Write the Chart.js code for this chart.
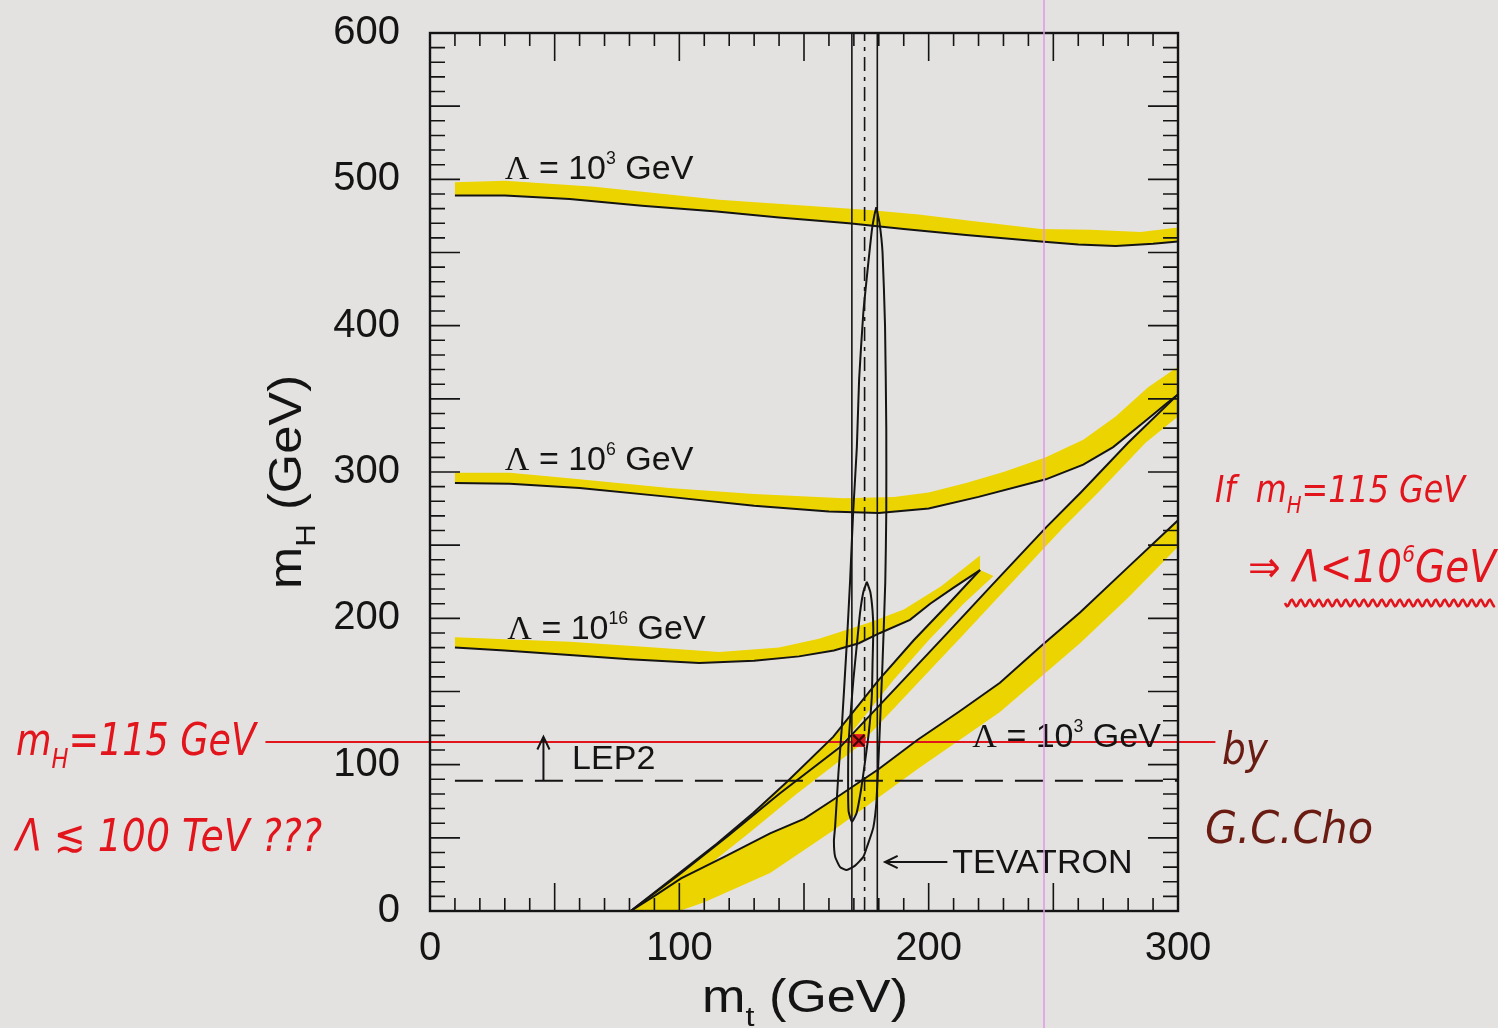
<!DOCTYPE html>
<html>
<head>
<meta charset="utf-8">
<script src="https://cdn.jsdelivr.net/npm/chart.js@4.4.0/dist/chart.umd.min.js"></script>
<style>
body{margin:0;background:#e4e2e0;}
#caixa{position:relative;width:1498px;height:1028px;}
#risco{position:absolute;left:1043px;top:0;width:2px;height:1028px;background:rgba(226,150,232,0.75);pointer-events:none;}
</style>
</head>
<body>
<div id="caixa"><canvas id="grafico"></canvas><div id="risco"></div></div>
<script>
// valores: [m_t, m_H] em GeV
// limites superiores (linha preta) e borda da faixa amarela acima
var sup3 = [[10,489],[30,489],[56,486.5],[85,482],[115,478],[140,474],[168,470],[190,466],[215,462],[245,457.5],[260,455.5],[275,454.5],[290,456],[300,457.5]];
var sup3Borda = [[10,498],[30,499],[66,495],[116,486],[176,479],[196,476],[220,471],[245,466],[265,465.5],[285,464],[300,467]];
var sup6 = [[10,292.5],[32,292],[60,289],[96,283],[130,277],[160,273],[180,272],[200,275],[220,283],[247,295],[262,305],[274,317],[287,335],[295.5,347],[300,353]];
var sup6Borda = [[10,299.5],[32,299.5],[60,295],[96,289],[130,285],[166,282],[186,283],[200,286],[215,292.5],[230,300],[247,310],[262,322],[275,338],[288,358],[300,372]];
var sup16 = [[10,180],[30,178],[56,175],[80,172],[108,169.5],[130,171],[148,174],[162,178],[172,183],[180.5,190],[192.5,199],[200.6,210],[210,221],[220.6,233]];
var sup16Borda = [[10,187],[56,184],[90,180],[116,177],[140,180],[156,186],[176,197],[190,206],[205,222],[220.6,243]];

// limites inferiores (estabilidade) e borda da faixa amarela abaixo
var inf16 = [[80.5,0],[100,26],[115,46],[129.6,67],[143,88],[161.7,119],[180,158],[194,185],[208,210],[220.6,233]];
var inf16Borda = [[87,0],[106,26],[121,46],[135.6,67],[149,88],[167.7,119],[186,158],[200,185],[214,210],[226,229]];
var inf6 = [[80.5,0],[100,25],[120,52],[140,80],[164.5,112],[191,160],[207,189],[225,222],[247,262],[261,286],[280,320],[300,353]];
var inf6Borda = [[88,0],[107,25],[127,52],[147,80],[171.5,112],[198,160],[214,189],[232,222],[254,262],[268,286],[287,320],[300,338]];
var inf3 = [[80.5,0],[90.7,11],[100.7,22.3],[118,37],[136.4,53],[150,63],[161.7,76],[180,97],[195.6,117],[212,136],[228.6,156],[245,181],[260.7,204],[280,235],[300,267]];
var inf3Borda = [[100,0],[110,6],[136.4,26],[161.7,55],[195.6,97],[228.6,136],[260.7,183],[280,214],[300,249]];

// contornos do ajuste eletrofraco
var contornoExt = [[179,481],[180.3,470],[181.5,450],[182.5,400],[183,330],[183,272],[182.6,225],[181.5,170],[180.3,120],[179.1,76],[177.8,57],[175.5,45],[173.8,37],[170.5,31],[167.1,28],[164.5,30],[162.5,37],[162,48],[162.5,58],[163.8,94],[165.1,124],[167.1,181],[168.5,226],[169.7,272],[171.2,317],[172.1,363],[173.8,409],[175.8,443],[177.2,465],[178.3,476],[179,481]];
var contornoInt = [[175.2,225],[176.6,218],[177.5,205],[177.8,192],[177.5,170],[177.2,146.5],[176,122],[174.4,101],[172.8,82],[171.1,67],[169.2,61],[167.9,68],[167.7,78],[167.7,95],[167.8,112],[168.7,135],[169.8,158],[171.2,182],[172.5,204],[173.8,218],[175.2,225]];

var tevatron = [169.2, 174.3, 179.4];   // m_t - erro, central, + erro
var lep2 = 89;                           // limite LEP2 em m_H
var mhVermelho = 115.5;                  // linha vermelha m_H = 115 GeV
var pontoX = [[172, 116.5]];
var xTicks = [0, 100, 200, 300];
var yTicks = [0, 100, 200, 300, 400, 500, 600];

var amarelo = '#ecd400';
var preto = '#141414';
var vermelho = '#e2141c';
var marrom = '#6a1c12';

function pts(a){ return a.map(function(p){ return {x:p[0], y:p[1]}; }); }
function banda(linha, borda){ return pts(linha.concat(borda.slice().reverse())); }

function faixa(linha, borda){
    return {data: banda(linha, borda), showLine:true, fill:'shape', backgroundColor:amarelo,
        borderWidth:0, pointRadius:0, order:5};
}
function linha(a, extra){
    var d = {data: pts(a), showLine:true, fill:false, borderColor:preto, borderWidth:2,
        pointRadius:0, order:1};
    for (var k in extra) d[k] = extra[k];
    return d;
}

var datasets = [
    faixa(sup3, sup3Borda), faixa(sup6, sup6Borda), faixa(sup16, sup16Borda),
    faixa(inf16, inf16Borda), faixa(inf6, inf6Borda), faixa(inf3, inf3Borda),
    linha([[-66, mhVermelho],[315, mhVermelho]], {borderColor:vermelho, borderWidth:2.2, clip:false, order:3}),
    linha(sup3), linha(sup6), linha(sup16), linha(inf16), linha(inf6), linha(inf3),
    linha(contornoExt, {tension:0.15}), linha(contornoInt, {tension:0.15}),
    linha([[tevatron[0],0],[tevatron[0],600]], {borderWidth:1.6}),
    linha([[tevatron[1],0],[tevatron[1],600]], {borderWidth:1.6, borderDash:[14,6,4,6]}),
    linha([[tevatron[2],0],[tevatron[2],600]], {borderWidth:1.6}),
    linha([[10,lep2],[300,lep2]], {borderWidth:2.2, borderDash:[28,12]}),
    {data: pts(pontoX), showLine:false, pointStyle:'crossRot', pointRadius:8, borderColor:'#3a0505',
        borderWidth:2.2, order:-1},
    {data: pts(pontoX), showLine:false, pointStyle:'rect', pointRadius:9, backgroundColor:vermelho,
        borderColor:vermelho, borderWidth:0, order:0}
];

function fonte(p, tam, fam, estilo){
    var t = p[1] === 'sub' ? tam*0.62 : p[1] === 'sup' ? tam*0.52 : tam;
    return (estilo || '') + ' ' + t + 'px ' + (p[2] || fam);
}
// texto com sub/sobrescrito; largura opcional ajusta a escala horizontal
function escreve(ctx, partes, x, y, tam, fam, cor, largura, estilo, centro){
    ctx.save();
    ctx.fillStyle = cor;
    ctx.textBaseline = 'alphabetic';
    ctx.textAlign = 'left';
    var w = 0;
    partes.forEach(function(p){ ctx.font = fonte(p, tam, fam, estilo); w += ctx.measureText(p[0]).width; });
    var esc = largura ? largura / w : 1;
    ctx.translate(x, y);
    ctx.scale(esc, 1);
    var cx = centro ? -w/2 : 0;
    partes.forEach(function(p){
        ctx.font = fonte(p, tam, fam, estilo);
        var dy = p[1] === 'sub' ? tam*0.3 : p[1] === 'sup' ? -tam*0.45 : 0;
        ctx.fillText(p[0], cx, dy);
        cx += ctx.measureText(p[0]).width;
    });
    ctx.restore();
}
function seta(ctx, x1, y1, x2, y2){
    var ang = Math.atan2(y2-y1, x2-x1), l = 14;
    ctx.beginPath();
    ctx.moveTo(x1, y1); ctx.lineTo(x2, y2);
    ctx.moveTo(x2 - l*Math.cos(ang-0.45), y2 - l*Math.sin(ang-0.45));
    ctx.lineTo(x2, y2);
    ctx.lineTo(x2 - l*Math.cos(ang+0.45), y2 - l*Math.sin(ang+0.45));
    ctx.stroke();
}
function semFolga(s){
    s.paddingTop = 0; s.paddingBottom = 0; s.paddingLeft = 0; s.paddingRight = 0;
}

var moldura = {
    id: 'moldura',
    afterDatasetsDraw: function(chart){
        var ctx = chart.ctx, a = chart.chartArea, sx = chart.scales.x, sy = chart.scales.y;
        ctx.save();
        ctx.strokeStyle = preto;
        ctx.lineWidth = 1.6;
        ctx.beginPath();
        for (var v = 0; v <= 300; v += 10){
            var px = sx.getPixelForValue(v), len = v % 50 === 0 ? 28 : 13;
            ctx.moveTo(px, a.bottom); ctx.lineTo(px, a.bottom - len);
            ctx.moveTo(px, a.top); ctx.lineTo(px, a.top + len);
        }
        for (v = 0; v <= 600; v += 10){
            var py = sy.getPixelForValue(v), l2 = v % 50 === 0 ? 30 : 15;
            ctx.moveTo(a.left, py); ctx.lineTo(a.left + l2, py);
            ctx.moveTo(a.right, py); ctx.lineTo(a.right - l2, py);
        }
        ctx.stroke();
        ctx.lineWidth = 2.4;
        ctx.strokeRect(a.left, a.top, a.right - a.left, a.bottom - a.top);

        // setas LEP2 e TEVATRON
        ctx.lineWidth = 2;
        seta(ctx, sx.getPixelForValue(45.5), sy.getPixelForValue(lep2), sx.getPixelForValue(45.5), sy.getPixelForValue(119));
        seta(ctx, sx.getPixelForValue(207.5), sy.getPixelForValue(33.5), sx.getPixelForValue(182.5), sy.getPixelForValue(33.5));
        ctx.restore();

        var fam = '"Liberation Sans", Arial, sans-serif';
        var serif = '"Liberation Serif", serif';
        function rot(partes, mt, mh){ escreve(ctx, partes, sx.getPixelForValue(mt), sy.getPixelForValue(mh), 34, fam, preto); }
        rot([['\u039B','',serif],[' = 10',''],['3','sup'],[' GeV','']], 30, 500);
        rot([['\u039B','',serif],[' = 10',''],['6','sup'],[' GeV','']], 30, 301.5);
        rot([['\u039B','',serif],[' = 10',''],['16','sup'],[' GeV','']], 31, 186);
        rot([['\u039B','',serif],[' = 10',''],['3','sup'],[' GeV','']], 217.5, 112);
        rot([['LEP2','']], 57, 97);
        rot([['TEVATRON','']], 209.5, 26);

        // titulos dos eixos
        escreve(ctx, [['m',''],['t','sub'],[' (GeV)','']], 805, 1012, 46, fam, preto, 206, '', true);
        ctx.save();
        ctx.translate(301, 482);
        ctx.rotate(-Math.PI/2);
        escreve(ctx, [['m',''],['H','sub'],[' (GeV)','']], 0, 0, 46, fam, preto, 214, '', true);
        ctx.restore();

        // anotacoes a mao
        var mao = '"DejaVu Sans", sans-serif';
        escreve(ctx, [['m',''],['H','sub'],['=115 GeV','']], 16, 755, 44, mao, vermelho, 240, 'italic');
        escreve(ctx, [['\u039B \u2272 100 TeV ???','']], 16, 851, 44, mao, vermelho, 306, 'italic');
        escreve(ctx, [['If  m',''],['H','sub'],['=115 GeV','']], 1215, 502, 38, mao, vermelho, 250, 'italic');
        escreve(ctx, [['\u21D2 \u039B<10',''],['6','sup'],['GeV','']], 1248, 582, 44, mao, vermelho, 248, 'italic');
        escreve(ctx, [['by','']], 1222, 764, 44, mao, marrom, 46, 'italic');
        escreve(ctx, [['G.C.Cho','']], 1205, 843, 44, mao, marrom, 168, 'italic');
        ctx.save();
        ctx.strokeStyle = vermelho;
        ctx.lineWidth = 2.6;
        ctx.beginPath();
        for (var i = 0; i <= 210; i++){
            var yy = 603 + 3.2*Math.sin(i/9*2*Math.PI);
            if (i === 0) ctx.moveTo(1285 + i, yy); else ctx.lineTo(1285 + i, yy);
        }
        ctx.stroke();
        ctx.restore();
    }
};

var el = document.getElementById('grafico');
el.width = 1498; el.height = 1028;
var grafico = new Chart(el.getContext('2d'), {
    type: 'scatter',
    data: {datasets: datasets},
    options: {
        responsive: false,
        animation: false,
        devicePixelRatio: 1,
        layout: {padding: {left: 0, right: 320, top: 33, bottom: 0}},
        plugins: {legend: {display: false}, tooltip: {enabled: false}},
        scales: {
            x: {
                type: 'linear', min: 0, max: 300,
                grid: {display: false, drawTicks: false},
                border: {display: false},
                afterFit: function(s){ s.height = 117; semFolga(s); },
                afterBuildTicks: function(s){ s.ticks = xTicks.map(function(v){ return {value: v}; }); },
                ticks: {color: preto, padding: 14, maxRotation: 0, autoSkip: false,
                    font: {family: '"Liberation Sans", Arial, sans-serif', size: 40}}
            },
            y: {
                type: 'linear', min: 0, max: 600,
                grid: {display: false, drawTicks: false},
                border: {display: false},
                afterFit: function(s){ s.width = 430; semFolga(s); },
                afterBuildTicks: function(s){ s.ticks = yTicks.map(function(v){ return {value: v}; }); },
                ticks: {color: preto, padding: 30, autoSkip: false,
                    font: {family: '"Liberation Sans", Arial, sans-serif', size: 40}}
            }
        }
    },
    plugins: [moldura]
});
</script>
</body>
</html>
